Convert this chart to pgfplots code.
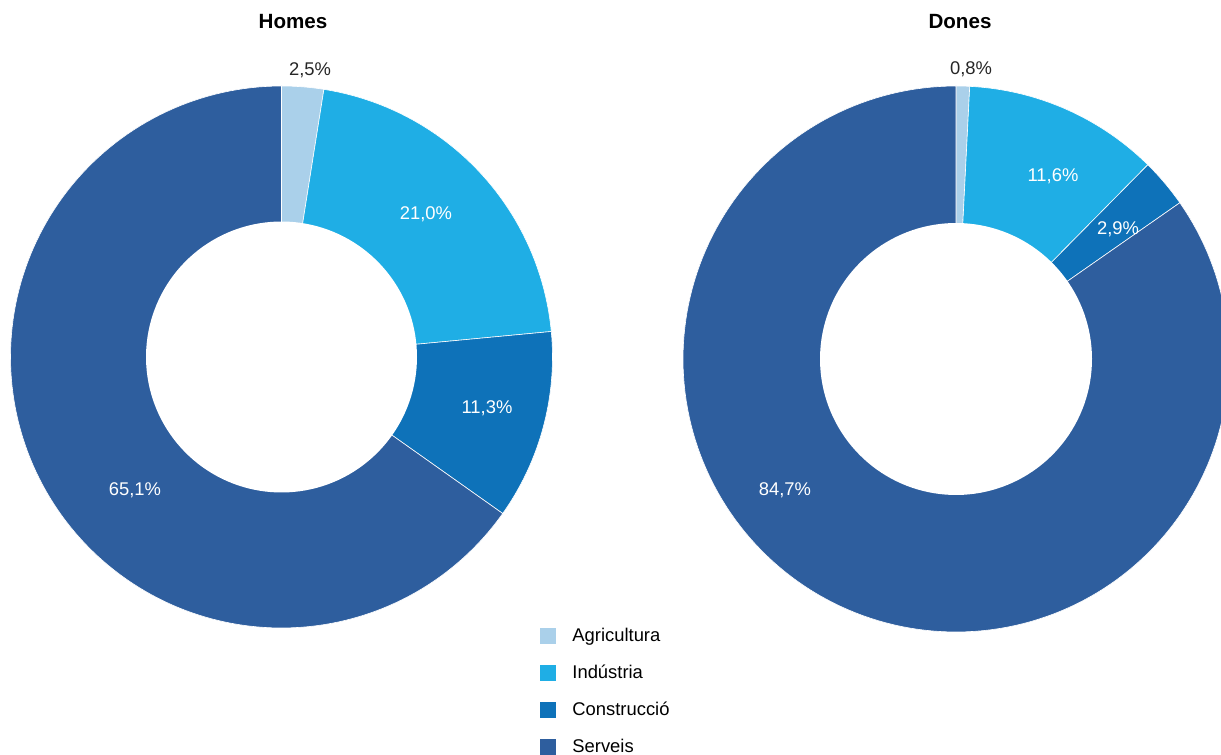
\documentclass[border=0pt]{standalone}
\usepackage{pgfplots}
\pgfplotsset{compat=1.18}
\usepackage{fontspec}
\setmainfont{Liberation Sans}
\definecolor{cAgr}{HTML}{AAD0EA}
\definecolor{cInd}{HTML}{1FAEE5}
\definecolor{cCon}{HTML}{0E72B9}
\definecolor{cSer}{HTML}{2E5E9E}
\newcommand{\lbl}{\fontsize{9.2}{11}\selectfont}
\newcommand{\ttl}{\fontsize{10.3}{12}\selectfont\bfseries}
\begin{document}
\begin{tikzpicture}
\begin{axis}[name=ax, scale only axis, width=610.5pt, height=377.5pt,
  xmin=0, xmax=1221, ymin=0, ymax=755, hide axis, clip=true,
  legend style={at={(axis cs:534,132)}, anchor=north west, draw=none, fill=none,
    font=\lbl, row sep=9.5pt, column sep=8pt,
    nodes={inner sep=0pt, text height=7pt, text depth=2pt}},
  legend cell align=left,
  legend image code/.code={\fill[#1, draw=none] (0pt,-4pt) rectangle (8pt,4pt);},
  every axis plot/.append style={draw=white, line width=0.3pt}]
% Homes: Agricultura 2.5, Industria 21.0, Construccio 11.3, Serveis 65.1 (%)
% angle = 90 - 3.6*cumulative
\addplot[fill=cAgr, domain=81:90, samples=10] ({281.5+271*cos(x)},{398+271*sin(x)}) -- (axis cs:281.5,398) -- cycle;
\addlegendentry{Agricultura}
\addplot[fill=cInd, domain=5.4:81, samples=50] ({281.5+271*cos(x)},{398+271*sin(x)}) -- (axis cs:281.5,398) -- cycle;
\addlegendentry{Indústria}
\addplot[fill=cCon, domain=-35.28:5.4, samples=30] ({281.5+271*cos(x)},{398+271*sin(x)}) -- (axis cs:281.5,398) -- cycle;
\addlegendentry{Construcció}
\addplot[fill=cSer, domain=-270:-35.28, samples=150] ({281.5+271*cos(x)},{398+271*sin(x)}) -- (axis cs:281.5,398) -- cycle;
\addlegendentry{Serveis}
\addplot[fill=white, draw=none, domain=0:360, samples=150, forget plot] ({281.5+135.5*cos(x)},{398+135.5*sin(x)}) -- cycle;
% Dones: Agricultura 0.8, Industria 11.6, Construccio 2.9, Serveis 84.7 (%)
\addplot[fill=cAgr, domain=87.12:90, samples=5, forget plot] ({956+273*cos(x)},{396+273*sin(x)}) -- (axis cs:956,396) -- cycle;
\addplot[fill=cInd, domain=45.36:87.12, samples=30, forget plot] ({956+273*cos(x)},{396+273*sin(x)}) -- (axis cs:956,396) -- cycle;
\addplot[fill=cCon, domain=34.92:45.36, samples=10, forget plot] ({956+273*cos(x)},{396+273*sin(x)}) -- (axis cs:956,396) -- cycle;
\addplot[fill=cSer, domain=-270:34.92, samples=180, forget plot] ({956+273*cos(x)},{396+273*sin(x)}) -- (axis cs:956,396) -- cycle;
\addplot[fill=white, draw=none, domain=0:360, samples=150, forget plot] ({956+136*cos(x)},{396+136*sin(x)}) -- cycle;
% labels
\node[font=\ttl] at (axis cs:293,733) {Homes};
\node[font=\ttl] at (axis cs:960,733) {Dones};
\node[font=\lbl, text=black!85] at (axis cs:310,685) {2,5\%};
\node[font=\lbl, text=white] at (axis cs:426,541) {21,0\%};
\node[font=\lbl, text=white] at (axis cs:487,347) {11,3\%};
\node[font=\lbl, text=white] at (axis cs:135,265) {65,1\%};
\node[font=\lbl, text=black!85] at (axis cs:971,686) {0,8\%};
\node[font=\lbl, text=white] at (axis cs:1053,579) {11,6\%};
\node[font=\lbl, text=white] at (axis cs:1118,526) {2,9\%};
\node[font=\lbl, text=white] at (axis cs:785,265) {84,7\%};
\end{axis}
\pgfresetboundingbox
\useasboundingbox (ax.south west) rectangle (ax.north east);
\end{tikzpicture}
\end{document}
